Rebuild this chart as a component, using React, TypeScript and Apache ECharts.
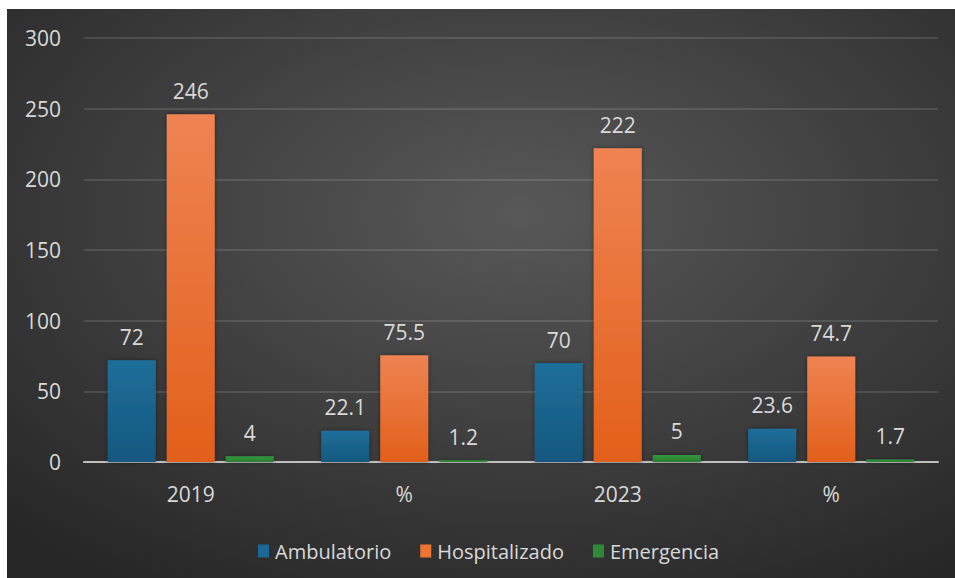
import React, { useEffect, useRef } from "react";
import * as echarts from "echarts";

const categories = ["2019", "%", "2023", "%"];
const seriesNames = ["Ambulatorio", "Hospitalizado", "Emergencia"];
const ambulatorio = [72, 22.1, 70, 23.6];
const hospitalizado = [246, 75.5, 222, 74.7];
const emergencia = [4, 1.2, 5, 1.7];
const yTicks = { min: 0, max: 300, interval: 50 };

const FONT = "'Open Sans', 'Liberation Sans', sans-serif";

export default function App() {
  const ref = useRef<HTMLDivElement>(null);
  useEffect(() => {
    if (!ref.current) return;
    const chart = echarts.init(ref.current, undefined, { renderer: "svg" });
    const grad = (a: string, b: string) =>
      new echarts.graphic.LinearGradient(0, 0, 0, 1, [
        { offset: 0, color: a },
        { offset: 1, color: b },
      ]);
    const colors = [
      grad("#1f6e9a", "#13587f"),
      grad("#ef8352", "#e2601a"),
      grad("#33963c", "#2a8033"),
    ];
    const legendColors = ["#1c6995", "#ee7433", "#2e8a38"];
    const label = {
      show: true,
      position: "top" as const,
      distance: 13,
      color: "#d9d9d9",
      fontSize: 21,
      fontFamily: FONT,
    };
    const datasets = [ambulatorio, hospitalizado, emergencia];
    chart.setOption({
      animation: false,
      backgroundColor: new echarts.graphic.RadialGradient(0.54, 0.36, 0.78, [
        { offset: 0, color: "#585858" },
        { offset: 1, color: "#262626" },
      ]),
      grid: { left: 77, right: 17, top: 29, bottom: 116 },
      legend: {
        left: 246,
        top: 527,
        itemWidth: 11,
        itemHeight: 13,
        itemGap: 29,
        icon: "rect",
        textStyle: { color: "#d9d9d9", fontSize: 20, fontFamily: FONT, padding: [0, 0, 0, 1] },
        data: seriesNames.map((n, i) => ({ name: n, itemStyle: { color: legendColors[i] } })),
      },
      xAxis: {
        type: "category",
        data: categories,
        axisLine: { show: true, lineStyle: { color: "#bfbfbf", width: 2 } },
        axisTick: { show: false },
        axisLabel: { color: "#d9d9d9", fontSize: 21, fontFamily: FONT, margin: 21 },
      },
      yAxis: {
        type: "value",
        min: yTicks.min,
        max: yTicks.max,
        interval: yTicks.interval,
        axisLine: { show: false },
        axisTick: { show: false },
        axisLabel: { color: "#d9d9d9", fontSize: 21, fontFamily: FONT, margin: 23 },
        splitLine: { lineStyle: { color: "rgba(255,255,255,0.16)", width: 1.5 } },
      },
      series: seriesNames.map((name, i) => ({
        name,
        type: "bar",
        data: datasets[i],
        barWidth: 48,
        barGap: "23%",
        itemStyle: {
          color: colors[i],
          shadowBlur: 4,
          shadowColor: "rgba(0,0,0,0.45)",
        },
        label,
      })),
    });
    return () => chart.dispose();
  }, []);
  return (
    <div style={{ position: "fixed", left: 0, top: 0, width: 955, height: 578, background: "#fff" }}>
      <div ref={ref} style={{ position: "absolute", left: 7, top: 9, width: 948, height: 569 }} />
    </div>
  );
}
